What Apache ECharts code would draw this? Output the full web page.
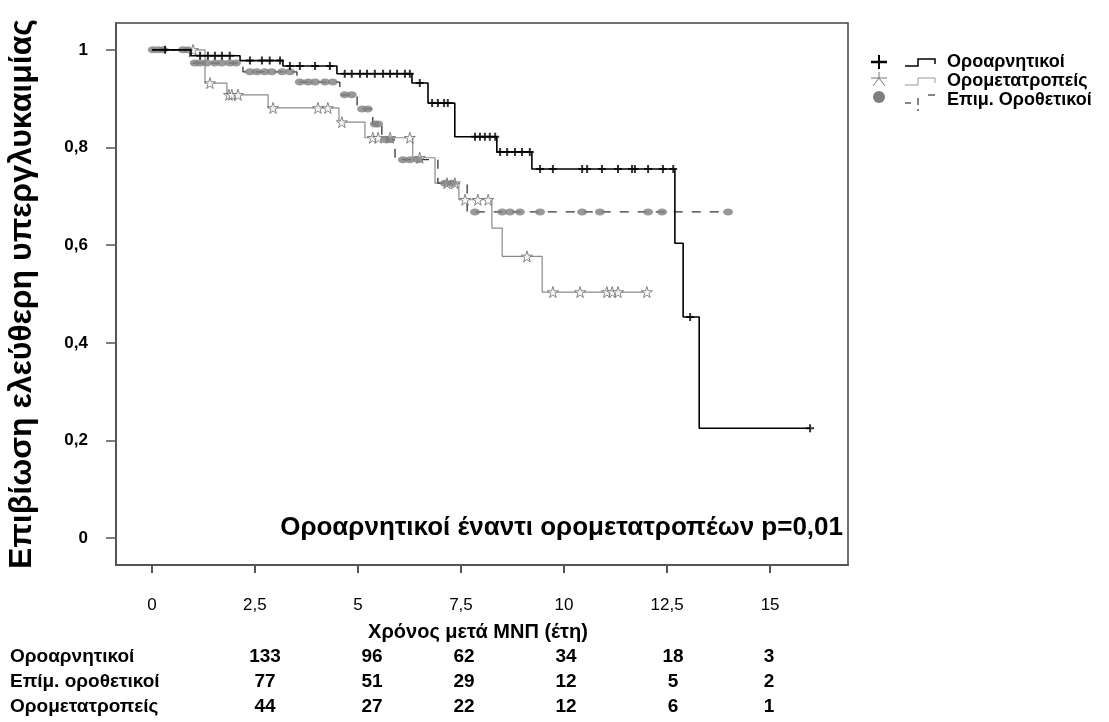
<!DOCTYPE html>
<html>
<head>
<meta charset="utf-8">
<script src="https://cdn.jsdelivr.net/npm/echarts@6/dist/echarts.min.js"></script>
<style>
  html, body { margin: 0; padding: 0; background: #fff; }
  #chart { width: 1109px; height: 722px; }
</style>
</head>
<body>
<div id="chart"></div>
<script>
// ---- Data ----
const xTicks = [0, 2.5, 5, 7.5, 10, 12.5, 15];
const yTicks = [0, 0.2, 0.4, 0.6, 0.8, 1];

const seriesNames = ['Οροαρνητικοί', 'Ορομετατροπείς', 'Επιμ. Οροθετικοί'];

// Οροαρνητικοί (black, +)
const negTimes = [0, 0.95, 2.14, 3.18, 4.49, 6.31, 6.70, 7.35, 8.37, 9.22, 12.69, 12.89, 13.28, 15.97];
const negSurv  = [1, 0.988, 0.978, 0.967, 0.951, 0.932, 0.891, 0.822, 0.791, 0.756, 0.604, 0.453, 0.225, 0.225];
const negCensor = [0.32, 1.17, 1.36, 1.53, 1.70, 1.89, 2.38, 2.67, 2.86, 3.11, 3.35, 3.59, 3.96, 4.32,
  4.68, 4.85, 5.05, 5.22, 5.41, 5.61, 5.78, 5.95, 6.14, 6.26, 6.50, 6.80, 6.94, 7.09, 7.18,
  7.84, 7.96, 8.08, 8.20, 8.33, 8.45, 8.62, 8.81, 8.98, 9.17, 9.42, 9.73, 10.44, 10.56, 10.92,
  11.31, 11.65, 11.72, 12.04, 12.40, 12.65, 13.06, 15.97];

// Ορομετατροπείς (grey, star)
const convTimes = [0, 1.29, 1.82, 2.82, 4.54, 5.17, 6.33, 6.87, 7.45, 8.25, 8.50, 9.47, 12.03];
const convSurv  = [1, 0.932, 0.908, 0.881, 0.852, 0.820, 0.779, 0.727, 0.693, 0.635, 0.577, 0.504, 0.504];
const convCensor = [1.0, 1.41, 1.87, 1.94, 2.09, 2.94, 4.03, 4.27, 4.61, 5.36, 5.49, 5.78, 6.26, 6.50,
  7.16, 7.35, 7.60, 7.91, 8.16, 9.10, 9.73, 10.39, 11.04, 11.17, 11.31, 12.01];

// Επιμ. Οροθετικοί (grey dashed, circle)
const posTimes = [0, 0.92, 2.21, 3.52, 4.56, 4.98, 5.36, 5.58, 5.90, 6.94, 7.65, 13.98];
const posSurv  = [1, 0.973, 0.955, 0.934, 0.908, 0.879, 0.848, 0.816, 0.775, 0.727, 0.668, 0.668];
const posCensor = [0.02, 0.15, 0.27, 0.75, 0.87, 1.04, 1.17, 1.33, 1.53, 1.70, 1.89, 2.04, 2.38, 2.55,
  2.74, 2.91, 3.16, 3.35, 3.59, 3.79, 3.96, 4.20, 4.39, 4.68, 4.85, 5.10, 5.24, 5.41, 5.49, 5.66,
  5.78, 6.09, 6.26, 6.46, 7.11, 7.28, 7.84, 8.50, 8.69, 8.93, 9.42, 10.44, 10.87, 12.04, 12.38, 13.98];

// Number at risk table
const riskLabels = ['Οροαρνητικοί', 'Επίμ. οροθετικοί', 'Ορομετατροπείς'];
const riskNeg  = [133, 96, 62, 34, 18, 3];
const riskPos  = [77, 51, 29, 12, 5, 2];
const riskConv = [44, 27, 22, 12, 6, 1];

const xTitle = 'Χρόνος μετά ΜΝΠ (έτη)';
const yTitle = 'Επιβίωση ελεύθερη υπεργλυκαιμίας';
const pText = 'Οροαρνητικοί έναντι ορομετατροπέων p=0,01';

// ---- helpers ----
function pairs(ts, ss) { return ts.map((t, i) => [t, ss[i]]); }
function survAt(ts, ss, t) {
  let v = ss[0];
  for (let i = 0; i < ts.length; i++) { if (ts[i] <= t) v = ss[i]; }
  return v;
}
function censorPts(cs, ts, ss) { return cs.map(t => [t, survAt(ts, ss, t)]); }

const PLUS = 'path://M3,0H5V3H8V5H5V8H3V5H0V3H3Z';
const STAR = 'path://M50,0L61,35L98,35L68,57L79,91L50,70L21,91L32,57L2,35L39,35Z';

const chart = echarts.init(document.getElementById('chart'), null, { renderer: 'canvas' });

const FONT = 'Liberation Sans, Arial, sans-serif';
const comma = v => String(v).replace('.', ',');

// risk-table graphics
const riskCols = [265, 372, 464, 566, 673, 769];
const riskRowsY = [657, 682, 707];
const riskData = [riskNeg, riskPos, riskConv];
const graphics = [];
riskLabels.forEach((lab, r) => {
  graphics.push({ type: 'text', x: 10, y: riskRowsY[r],
    style: { text: lab, font: 'bold 19px ' + FONT, fill: '#000', verticalAlign: 'middle' } });
  riskData[r].forEach((v, c) => {
    graphics.push({ type: 'text', x: riskCols[c], y: riskRowsY[r],
      style: { text: String(v), font: 'bold 19px ' + FONT, fill: '#000', align: 'center', verticalAlign: 'middle' } });
  });
});
// x-axis title
graphics.push({ type: 'text', x: 478, y: 632,
  style: { text: xTitle, font: 'bold 20px ' + FONT, fill: '#000', align: 'center', verticalAlign: 'middle' } });
// p-value annotation
graphics.push({ type: 'text', x: 843, y: 528,
  style: { text: pText, font: 'bold 26px ' + FONT, fill: '#000', align: 'right', verticalAlign: 'middle' } });

// legend (custom, symbol + step glyph + label)
const legY = [62, 81, 100];
function seg(pts, color, w) {
  return { type: 'polyline', shape: { points: pts }, style: { stroke: color, lineWidth: w, fill: null } };
}
// plus
graphics.push(seg([[871, legY[0]], [887, legY[0]]], '#000', 2.5));
graphics.push(seg([[879, legY[0] - 7], [879, legY[0] + 7]], '#000', 2));
graphics.push(seg([[905, legY[0] + 4], [918, legY[0] + 4], [918, legY[0] - 3], [935, legY[0] - 3], [935, legY[0] + 2]], '#000', 1.5));
// star
graphics.push(seg([[871, legY[1] - 3], [887, legY[1] - 3]], '#777', 1));
graphics.push(seg([[879, legY[1] - 3], [873, legY[1] + 5]], '#777', 1));
graphics.push(seg([[879, legY[1] - 3], [885, legY[1] + 5]], '#777', 1));
graphics.push(seg([[879, legY[1] - 3], [879, legY[1] - 9]], '#777', 1));
graphics.push(seg([[905, legY[1] + 4], [918, legY[1] + 4], [918, legY[1] - 3], [935, legY[1] - 3], [935, legY[1] + 2]], '#999', 1));
// circle
graphics.push({ type: 'circle', shape: { cx: 879, cy: legY[2] - 3, r: 6 }, style: { fill: '#7f7f7f' } });
graphics.push(seg([[905, legY[2] + 3], [911, legY[2] + 3]], '#333', 1.2));
graphics.push(seg([[918, legY[2] - 2], [918, legY[2] + 5]], '#333', 1.2));
graphics.push(seg([[928, legY[2] - 5], [935, legY[2] - 5]], '#333', 1.2));
graphics.push(seg([[918, legY[2] + 9], [918, legY[2] + 11]], '#333', 1.2));
seriesNames.forEach((n, i) => {
  graphics.push({ type: 'text', x: 947, y: legY[i],
    style: { text: n, font: 'bold 18px ' + FONT, fill: '#000', verticalAlign: 'middle' } });
});

const option = {
  animation: false,
  backgroundColor: '#fff',
  textStyle: { fontFamily: FONT },
  grid: { left: 116, top: 23, right: 261, bottom: 157, containLabel: false, outerBoundsMode: 'none',
    show: true, borderColor: '#444', borderWidth: 1.5, backgroundColor: 'transparent' },
  xAxis: {
    type: 'value', min: -0.87, max: 16.89,
    axisLine: { show: true, onZero: false, lineStyle: { color: '#555', width: 2 } },
    axisTick: { show: true, length: 8, customValues: xTicks, lineStyle: { color: '#555', width: 2 } },
    axisLabel: { customValues: xTicks, formatter: comma, color: '#000', fontSize: 17, margin: 32, fontFamily: FONT },
    splitLine: { show: false }
  },
  yAxis: {
    type: 'value', min: -0.055, max: 1.055,
    name: yTitle, nameLocation: 'middle', nameGap: 78, nameRotate: 90,
    nameTextStyle: { fontSize: 32, fontWeight: 'bold', color: '#000', fontFamily: FONT },
    axisLine: { show: true, onZero: false, lineStyle: { color: '#555', width: 2 } },
    axisTick: { show: true, length: 10, customValues: yTicks, lineStyle: { color: '#555', width: 1.5 } },
    axisLabel: { customValues: yTicks, formatter: comma, color: '#000', fontSize: 17, fontWeight: 'bold', margin: 28, fontFamily: FONT },
    splitLine: { show: false }
  },
  graphic: graphics,
  series: [
    { name: seriesNames[1], type: 'line', step: 'end', data: pairs(convTimes, convSurv), showSymbol: false,
      lineStyle: { color: '#8a8a8a', width: 1.2 }, z: 2 },
    { name: seriesNames[1] + ' censor', type: 'scatter', data: censorPts(convCensor, convTimes, convSurv),
      symbol: STAR, symbolSize: 11, itemStyle: { color: '#fff', borderColor: '#666', borderWidth: 1 }, z: 3 },
    { name: seriesNames[2], type: 'line', step: 'end', data: pairs(posTimes, posSurv), showSymbol: false,
      lineStyle: { color: '#333', width: 1.3, type: [9, 9] }, z: 2 },
    { name: seriesNames[2] + ' censor', type: 'scatter', data: censorPts(posCensor, posTimes, posSurv),
      symbol: 'circle', symbolSize: [10, 7], itemStyle: { color: '#7f7f7f' }, z: 3 },
    { name: seriesNames[0], type: 'line', step: 'end', data: pairs(negTimes, negSurv), showSymbol: false,
      lineStyle: { color: '#000', width: 1.6 }, z: 4 },
    { name: seriesNames[0] + ' censor', type: 'scatter', data: censorPts(negCensor, negTimes, negSurv),
      symbol: PLUS, symbolSize: 8, itemStyle: { color: '#000' }, z: 5 }
  ]
};
chart.setOption(option);
</script>
</body>
</html>
